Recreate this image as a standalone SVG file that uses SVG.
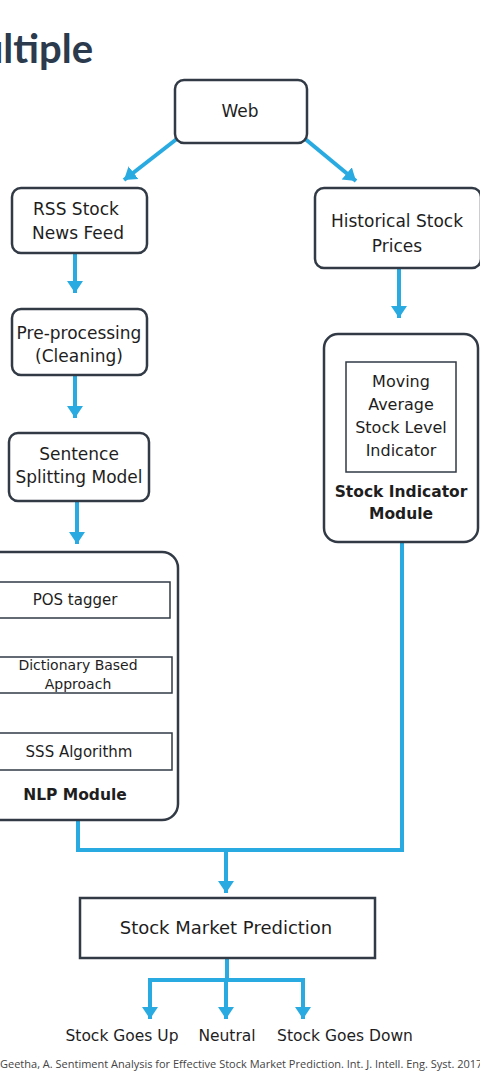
<svg xmlns="http://www.w3.org/2000/svg" width="480" height="1080" viewBox="0 0 480 1080">
<defs>
<style>
.box{fill:#fff;stroke:#323a45;stroke-width:2.5}
.inner{fill:#fff;stroke:#323a45;stroke-width:1.5}
.t{font-family:"DejaVu Sans","Open Sans",sans-serif;font-size:17px;fill:#1e1e1e;text-anchor:middle}
.s{font-size:15px}
.xs{font-size:14px}
.m{font-size:16px}
.o{font-size:15.5px}
.b{font-weight:bold;font-size:15.5px}
.c{stroke:#29abe2;stroke-width:4;fill:none}
.ca{marker-end:url(#ah)}
</style>
<marker id="ah" markerUnits="userSpaceOnUse" markerWidth="14" markerHeight="18" refX="12" refY="9" orient="auto" viewBox="0 0 14 18">
<path d="M0,1 L12,9 L0,17 z" fill="#29abe2"/>
</marker>
</defs>
<rect width="480" height="1080" fill="#fff"/>
<text x="93" y="63" text-anchor="end" font-family="Lato,'Open Sans',sans-serif" font-weight="bold" font-size="40" fill="#2b3a4c">ultiple</text>

<g id="connectors">
<line class="c ca" x1="178" y1="138" x2="124" y2="180"/>
<line class="c ca" x1="304" y1="138" x2="356" y2="181"/>
<line class="c ca" x1="75" y1="253" x2="75" y2="293"/>
<line class="c ca" x1="75" y1="375" x2="75" y2="418"/>
<line class="c ca" x1="77" y1="501" x2="77" y2="544"/>
<line class="c ca" x1="399" y1="268" x2="399" y2="318"/>
<polyline class="c" points="78,820 78,850 402,850 402,542"/>
<line class="c ca" x1="226" y1="850" x2="226" y2="893"/>
<line class="c" x1="227" y1="958" x2="227" y2="980"/>
<polyline class="c ca" points="226,980 150,980 150,1019"/>
<line class="c ca" x1="226" y1="980" x2="226" y2="1019"/>
<polyline class="c ca" points="226,980 303,980 303,1019"/>
</g>

<g id="web">
<rect class="box" x="175" y="80" width="132" height="63" rx="9"/>
<text class="t" x="240" y="117">Web</text>
</g>
<g id="rss">
<rect class="box" x="12" y="188" width="135" height="65" rx="9"/>
<text class="t" x="76" y="215">RSS Stock</text>
<text class="t" x="78" y="239">News Feed</text>
</g>
<g id="historical">
<rect class="box" x="315" y="188" width="166" height="80" rx="9"/>
<text class="t" x="397" y="227">Historical Stock</text>
<text class="t" x="397" y="252">Prices</text>
</g>
<g id="preprocessing">
<rect class="box" x="12" y="309" width="135" height="66" rx="9"/>
<text class="t" x="79" y="339">Pre-processing</text>
<text class="t" x="79" y="362">(Cleaning)</text>
</g>
<g id="sentence">
<rect class="box" x="9" y="433" width="140" height="68" rx="9"/>
<text class="t" x="79" y="460">Sentence</text>
<text class="t" x="79" y="483">Splitting Model</text>
</g>
<g id="nlp">
<rect class="box" x="-30" y="552" width="208" height="268" rx="16"/>
<rect class="inner" x="-10" y="582" width="180" height="36"/>
<text class="t s" x="75" y="605">POS tagger</text>
<rect class="inner" x="-10" y="657" width="182" height="36"/>
<text class="t xs" x="78" y="670">Dictionary Based</text>
<text class="t xs" x="78" y="689">Approach</text>
<rect class="inner" x="-10" y="733" width="182" height="37"/>
<text class="t s" x="79" y="757">SSS Algorithm</text>
<text class="t b" x="75" y="800">NLP Module</text>
</g>
<g id="stockindicator">
<rect class="box" x="324" y="334" width="154" height="208" rx="14"/>
<rect class="inner" x="346" y="362" width="110" height="110"/>
<text class="t m" x="401" y="387">Moving</text>
<text class="t m" x="401" y="410">Average</text>
<text class="t m" x="401" y="433">Stock Level</text>
<text class="t m" x="401" y="456">Indicator</text>
<text class="t b" x="401" y="497">Stock Indicator</text>
<text class="t b" x="401" y="519">Module</text>
</g>
<g id="prediction">
<rect class="box" x="80" y="898" width="295" height="60"/>
<text class="t" x="226" y="934" style="font-size:18px">Stock Market Prediction</text>
</g>
<g id="outcomes">
<text class="t o" x="122" y="1041">Stock Goes Up</text>
<text class="t o" x="227" y="1041">Neutral</text>
<text class="t o" x="345" y="1041">Stock Goes Down</text>
</g>
<text x="0" y="1068" font-family="'Open Sans','Liberation Sans',sans-serif" font-size="11" fill="#444">Geetha, A. Sentiment Analysis for Effective Stock Market Prediction. Int. J. Intell. Eng. Syst. 2017</text>
</svg>
